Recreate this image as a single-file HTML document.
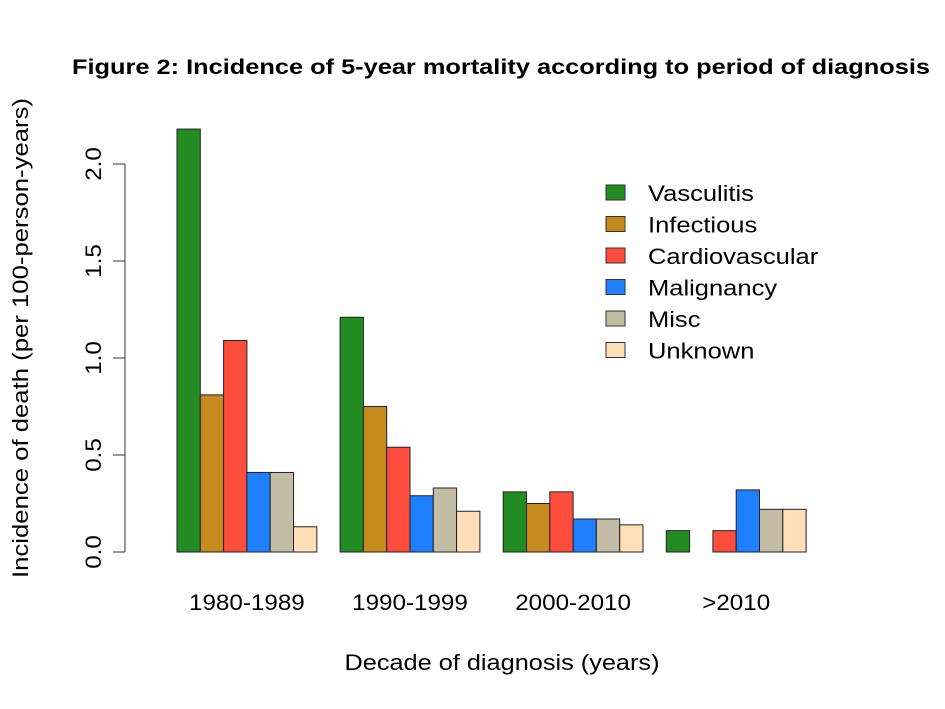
<!DOCTYPE html>
<html><head><meta charset="utf-8"><style>
body{margin:0;background:#fff;}
svg{display:block;font-family:"Liberation Sans",Arial,sans-serif;}
</style></head><body>
<svg id="chart" width="945" height="709" viewBox="0 0 945 709">
<text x="501" y="74" text-anchor="middle" font-size="21" font-weight="bold" textLength="858" lengthAdjust="spacingAndGlyphs">Figure 2: Incidence of 5-year mortality according to period of diagnosis</text>
<text x="502" y="670" text-anchor="middle" font-size="22" textLength="315" lengthAdjust="spacingAndGlyphs">Decade of diagnosis (years)</text>
<text transform="translate(28,338) rotate(-90)" text-anchor="middle" font-size="22" textLength="480" lengthAdjust="spacingAndGlyphs">Incidence of death (per 100-person-years)</text>
<g id="yaxis"></g>
<g id="bars"></g>
<g id="xlabels"></g>
<g id="legend"></g>
</svg>
<script>
const categories=["1980-1989","1990-1999","2000-2010",">2010"];
const seriesNames=["Vasculitis","Infectious","Cardiovascular","Malignancy","Misc","Unknown"];
const vasculitis=[2.18,1.21,0.31,0.11];
const infectious=[0.81,0.75,0.25,0.0];
const cardiovascular=[1.09,0.54,0.31,0.11];
const malignancy=[0.41,0.29,0.17,0.32];
const misc=[0.41,0.33,0.17,0.22];
const unknown=[0.13,0.21,0.14,0.22];
const yTicks=[0,0.5,1.0,1.5,2.0];
const yTickLabels=["0.0","0.5","1.0","1.5","2.0"];
const colors=["#228B22","#C68A1E","#FF4D3D","#1E7FFF","#C4BDA6","#FFDEB8"];
const series=[vasculitis,infectious,cardiovascular,malignancy,misc,unknown];
const NS="http://www.w3.org/2000/svg";
const y0=552, pxPerUnit=194;
function yScale(v){return y0-v*pxPerUnit;}
const bw=23.3, x0=177;
function xBar(g,s){return x0+g*7*bw+s*bw;}
function mk(tag,attrs,parent){const e=document.createElementNS(NS,tag);for(const k in attrs)e.setAttribute(k,attrs[k]);parent.appendChild(e);return e;}
function stretch(t,k){const w=t.getComputedTextLength();t.setAttribute('textLength',w*k);t.setAttribute('lengthAdjust','spacingAndGlyphs');}
const ya=document.getElementById('yaxis');
const yl=mk('line',{x1:125,x2:125,y1:yScale(yTicks[0]),y2:yScale(yTicks[yTicks.length-1]),stroke:'#333','stroke-width':1},ya);


yTicks.forEach((t,i)=>{
  const tk=mk('line',{x1:113,x2:125,y1:yScale(t),y2:yScale(t),stroke:'#333'},ya);
  
  
  const tx=mk('text',{transform:`translate(101,${yScale(t)}) rotate(-90)`,'text-anchor':'middle','font-size':22},ya);
  tx.textContent=yTickLabels[i];
  
  
  stretch(tx,1.1);
});
const bg=document.getElementById('bars');
categories.forEach((c,g)=>{
  series.forEach((arr,s)=>{
    const v=arr[g];
    const r=mk('rect',{x:xBar(g,s),y:yScale(v),width:bw,height:v*pxPerUnit,fill:colors[s],stroke:'#222','stroke-width':1},bg);
    
    
  });
  const t=mk('text',{x:xBar(g,3),y:610,'text-anchor':'middle','font-size':22},document.getElementById('xlabels'));
  t.textContent=c;
  
  
  stretch(t,1.1);
});
const lg=document.getElementById('legend');
seriesNames.forEach((n,i)=>{
  const yy=193+i*31.5;
  const r=mk('rect',{x:606,y:yy-8,width:19,height:15,fill:colors[i],stroke:'#333','stroke-width':1},lg);
  
  
  const t=mk('text',{x:648,y:yy+8,'font-size':22},lg);
  t.textContent=n;
  
  
  stretch(t,1.16);
});
</script>
</body></html>
